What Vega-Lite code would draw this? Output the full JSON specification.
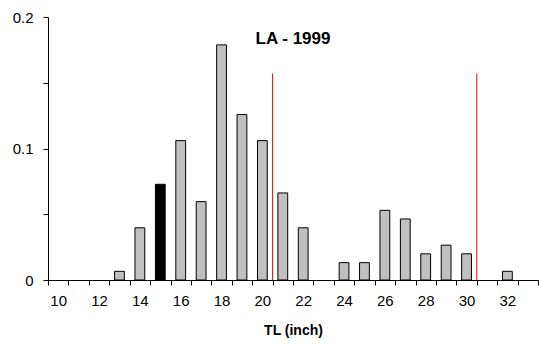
{
  "$schema": "https://vega.github.io/schema/vega-lite/v6.json",
  "width": 490,
  "height": 263,
  "autosize": {"type": "none"},
  "padding": {"left": 48, "top": 17, "right": 1, "bottom": 65},
  "background": "white",
  "config": {
    "view": {"stroke": null},
    "font": "Liberation Sans",
    "axis": {"domainColor": "black", "tickColor": "black", "labelColor": "black", "titleColor": "black", "grid": false, "ticks": true, "tickWidth": 1, "domainWidth": 1, "labelFont": "Liberation Sans", "titleFont": "Liberation Sans"}
  },
  "layer": [
    {
      "data": {"values": [
        {"TL": 13, "p": 0.0066, "sel": "n"},
        {"TL": 14, "p": 0.0397, "sel": "n"},
        {"TL": 15, "p": 0.0728, "sel": "y"},
        {"TL": 16, "p": 0.106, "sel": "n"},
        {"TL": 17, "p": 0.0596, "sel": "n"},
        {"TL": 18, "p": 0.1788, "sel": "n"},
        {"TL": 19, "p": 0.1258, "sel": "n"},
        {"TL": 20, "p": 0.106, "sel": "n"},
        {"TL": 21, "p": 0.0662, "sel": "n"},
        {"TL": 22, "p": 0.0397, "sel": "n"},
        {"TL": 24, "p": 0.0132, "sel": "n"},
        {"TL": 25, "p": 0.0132, "sel": "n"},
        {"TL": 26, "p": 0.053, "sel": "n"},
        {"TL": 27, "p": 0.0464, "sel": "n"},
        {"TL": 28, "p": 0.0199, "sel": "n"},
        {"TL": 29, "p": 0.0265, "sel": "n"},
        {"TL": 30, "p": 0.0199, "sel": "n"},
        {"TL": 32, "p": 0.0066, "sel": "n"}
      ]},
      "mark": {"type": "bar", "stroke": "black", "strokeWidth": 1, "width": {"band": 0.48}},
      "encoding": {
        "x": {
          "field": "TL", "type": "ordinal",
          "scale": {"domain": [10,11,12,13,14,15,16,17,18,19,20,21,22,23,24,25,26,27,28,29,30,31,32,33], "paddingInner": 0, "paddingOuter": 0},
          "axis": {
            "title": "TL (inch)", "titleFontSize": 14, "titleFontWeight": "bold", "titlePadding": 15,
            "labelAngle": 0, "labelFontSize": 15, "labelPadding": 8, "ticks": true, "tickSize": 5, "tickBand": "extent",
            "labelExpr": "datum.value % 2 == 0 ? datum.label : ''"
          }
        },
        "y": {
          "field": "p", "type": "quantitative",
          "scale": {"domain": [0, 0.2], "nice": false},
          "axis": {
            "title": null, "labelFontSize": 15, "labelPadding": 10, "ticks": true, "tickSize": 5,
            "values": [0, 0.025, 0.05, 0.075, 0.1, 0.125, 0.15, 0.175, 0.2],
            "labelExpr": "datum.value == 0 ? '0' : (abs(datum.value * 10 - round(datum.value * 10)) < 0.000001 ? format(datum.value, '.1f') : '')"
          }
        },
        "color": {"field": "sel", "type": "nominal", "scale": {"domain": ["n", "y"], "range": ["#c0c0c0", "#000000"]}, "legend": null}
      }
    },
    {
      "data": {"values": [{"TL": 21, "top": 0.157}, {"TL": 31, "top": 0.157}]},
      "mark": {"type": "rule", "color": "#ff0000", "strokeWidth": 1},
      "encoding": {
        "x": {"field": "TL", "type": "ordinal", "bandPosition": 0},
        "y": {"field": "top", "type": "quantitative"},
        "y2": {"datum": 0}
      }
    },
    {
      "data": {"values": [{"TL": 22, "yv": 0.183, "label": "LA - 1999"}]},
      "mark": {"type": "text", "fontSize": 17, "fontWeight": "bold", "color": "black", "align": "center", "baseline": "middle"},
      "encoding": {
        "x": {"field": "TL", "type": "ordinal", "bandPosition": 0},
        "y": {"field": "yv", "type": "quantitative"},
        "text": {"field": "label"}
      }
    }
  ]
}
